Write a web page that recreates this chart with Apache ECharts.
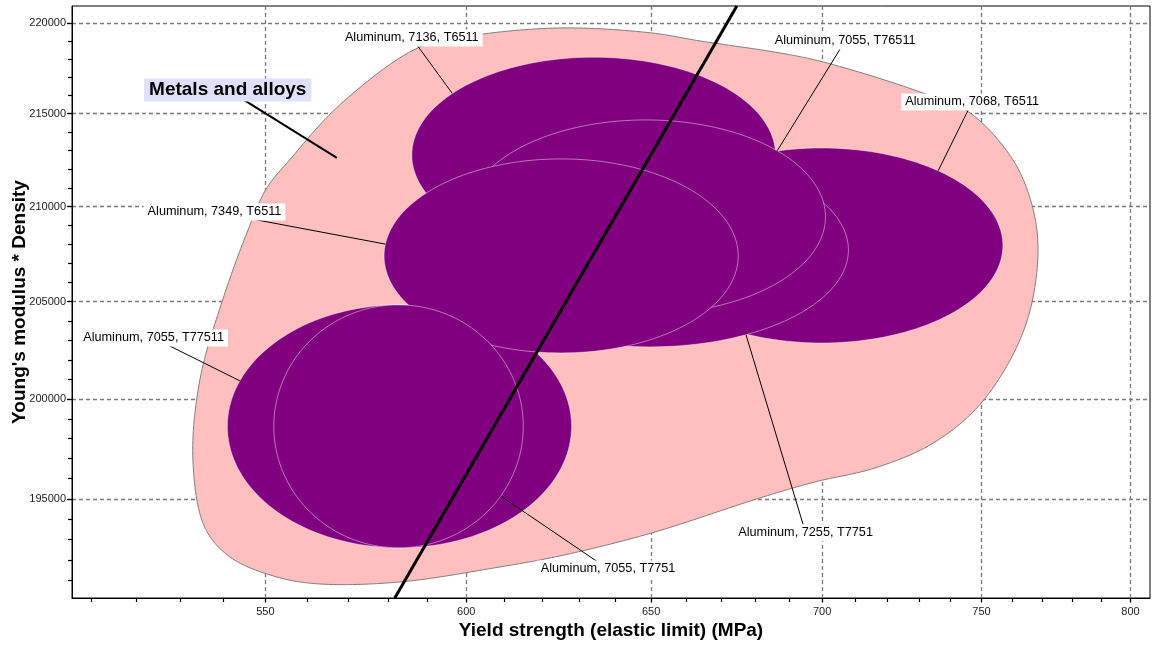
<!DOCTYPE html>
<html>
<head>
<meta charset="utf-8">
<script src="https://cdn.jsdelivr.net/npm/echarts@6/dist/echarts.min.js"></script>
<style>
  html, body { margin: 0; padding: 0; background: #fff; }
  #chart { width: 1152px; height: 646px; }
</style>
</head>
<body>
<div id="chart"></div>
<script>
// material bubbles: yield strength range (MPa) and E*density range
const materials = [
  "Aluminum, 7136, T6511",
  "Aluminum, 7068, T6511",
  "Aluminum, 7255, T7751",
  "Aluminum, 7055, T76511",
  "Aluminum, 7055, T77511",
  "Aluminum, 7349, T6511",
  "Aluminum, 7055, T7751",
];
const yieldLow = [586, 647, 596, 600, 541, 579, 552];
const yieldHigh = [686, 757, 708, 701, 628, 675, 615];
const modDensLow = [207550, 202860, 202660, 204360, 192600, 202350, 192600];
const modDensHigh = [218100, 213140, 212870, 214660, 204830, 212550, 204830];

// where each label sits, and where its leader meets the bubble (degrees)
const labelYield = [586, 747, 695, 707, 524, 538, 638];
const labelModDens = [219170, 215640, 193330, 219000, 203120, 209710, 191570];
const leaderAngle = [141, 50, -61, 43, 158, 173, -35];

// "Metals and alloys" envelope outline
const envYield = [587.5, 600.9, 624.8, 650.2, 663.9, 687.3, 700.3, 730.3, 746.3, 760.3, 766.6, 768.6,
  766.0, 759.4, 747.9, 733.5, 716.2, 697.8, 681.4, 650.2, 624.8, 608.8, 583.0, 563.1, 552.7, 541.6,
  535.7, 533.0, 534.6, 539.9, 545.6, 550.3, 555.8, 568.0];
const envModDens = [218610, 219276, 219722, 219443, 218999, 218334, 217837, 216187, 215039, 212494,
  210085, 207702, 204567, 201991, 199448, 197688, 196537, 195840, 195050, 193327, 192203, 191668,
  190940, 190843, 191182, 192154, 193622, 196937, 200970, 205086, 208600, 210980, 212494, 215477];
const envLabel = "Metals and alloys";
const envLabelAt = [541.1, 216297];
const envLeaderTo = [567.3, 212600];

// selection line
const selYield = [581.7, 674.6];
const selModDens = [190165, 220948];

// axes
const xTicks = [550, 600, 650, 700, 750, 800];
const yTicks = [195000, 200000, 205000, 210000, 215000, 220000];
const xRange = [505.8, 806.8];
const yRange = [190165, 220948];
const xMinorStep = 10;
const yMinorStep = 1000;

const lg = Math.log10;
const FONT = '"Liberation Sans", Arial, sans-serif';

const xMinor = [];
for (let v = 510; v <= 800; v += xMinorStep) xMinor.push(lg(v));
const yMinor = [];
for (let v = 191000; v <= 220000; v += yMinorStep) yMinor.push(lg(v));

const fmt = (v) => String(Math.round(Math.pow(10, v)));

const ellipseRows = materials.map((m, i) => [lg(yieldLow[i]), lg(yieldHigh[i]), lg(modDensLow[i]), lg(modDensHigh[i])]);

function ellipseGeom(api, i) {
  const a = api.coord([lg(yieldLow[i]), lg(modDensLow[i])]);
  const b = api.coord([lg(yieldHigh[i]), lg(modDensHigh[i])]);
  return {
    cx: (a[0] + b[0]) / 2, cy: (a[1] + b[1]) / 2,
    rx: Math.abs(b[0] - a[0]) / 2, ry: Math.abs(b[1] - a[1]) / 2,
  };
}

// closed centripetal catmull-rom through the envelope points (pixel space)
function closedSpline(pts, steps) {
  const n = pts.length;
  const out = [];
  const d = (p, q) => Math.pow(Math.hypot(q[0] - p[0], q[1] - p[1]), 0.5) || 1e-6;
  const mix = (p, q, a, b, t) => [
    ((b - t) / (b - a)) * p[0] + ((t - a) / (b - a)) * q[0],
    ((b - t) / (b - a)) * p[1] + ((t - a) / (b - a)) * q[1],
  ];
  for (let i = 0; i < n; i++) {
    const p0 = pts[(i - 1 + n) % n], p1 = pts[i], p2 = pts[(i + 1) % n], p3 = pts[(i + 2) % n];
    const t0 = 0, t1 = t0 + d(p0, p1), t2 = t1 + d(p1, p2), t3 = t2 + d(p2, p3);
    for (let s = 0; s < steps; s++) {
      const t = t1 + ((t2 - t1) * s) / steps;
      const A1 = mix(p0, p1, t0, t1, t), A2 = mix(p1, p2, t1, t2, t), A3 = mix(p2, p3, t2, t3, t);
      const B1 = mix(A1, A2, t0, t2, t), B2 = mix(A2, A3, t1, t3, t);
      out.push(mix(B1, B2, t1, t2, t));
    }
  }
  return out;
}

const chart = echarts.init(document.getElementById("chart"));

const option = {
  animation: false,
  grid: {
    left: 72, right: 2, top: 6, bottom: 48,
    show: true, borderColor: "#000", borderWidth: 1,
    outerBoundsMode: "none",
  },
  xAxis: [
    {
      type: "value", position: "bottom",
      min: lg(xRange[0]), max: lg(xRange[1]),
      name: "Yield strength (elastic limit) (MPa)",
      nameLocation: "middle", nameGap: 23, nameMoveOverlap: false,
      nameTextStyle: { fontFamily: FONT, fontSize: 19, fontWeight: "bold", color: "#000" },
      axisLine: { lineStyle: { color: "#000", width: 1 } },
      axisTick: { customValues: xTicks.map(lg), length: 5, lineStyle: { color: "#777", width: 1.2 } },
      axisLabel: { customValues: xTicks.map(lg), formatter: fmt, margin: 8, fontFamily: FONT, fontSize: 11, color: "#222" },
      splitLine: { show: true, lineStyle: { color: "#7a7a7a", width: 1.3, type: [4, 3] } },
    },
    {
      type: "value", position: "bottom",
      min: lg(xRange[0]), max: lg(xRange[1]),
      axisLine: { show: false },
      axisTick: { customValues: xMinor, length: 4, lineStyle: { color: "#000", width: 1.2 } },
      axisLabel: { show: false },
      splitLine: { show: false },
    },
  ],
  yAxis: [
    {
      type: "value", position: "left",
      min: lg(yRange[0]), max: lg(yRange[1]),
      name: "Young's modulus * Density",
      nameLocation: "middle", nameGap: 43, nameRotate: 90, nameMoveOverlap: false,
      nameTextStyle: { fontFamily: FONT, fontSize: 19, fontWeight: "bold", color: "#000" },
      axisLine: { show: true, lineStyle: { color: "#000", width: 1 } },
      axisTick: { show: true, customValues: yTicks.map(lg), length: 5, lineStyle: { color: "#000", width: 1.2 } },
      axisLabel: { customValues: yTicks.map(lg), formatter: fmt, margin: 6, fontFamily: FONT, fontSize: 11, color: "#222" },
      splitLine: { show: true, lineStyle: { color: "#7a7a7a", width: 1.3, type: [4, 3] } },
    },
    {
      type: "value", position: "left",
      min: lg(yRange[0]), max: lg(yRange[1]),
      axisLine: { show: false },
      axisTick: { show: true, customValues: yMinor, length: 4, lineStyle: { color: "#000", width: 1.2 } },
      axisLabel: { show: false },
      splitLine: { show: false },
    },
  ],
  series: [
    {
      // envelope
      type: "custom", z: 1, silent: true,
      data: envYield.map((x, i) => [lg(x), lg(envModDens[i])]),
      encode: { x: 0, y: 1 },
      renderItem: (params, api) => {
        if (params.dataIndex !== 0) return null;
        const pts = envYield.map((x, i) => api.coord([lg(x), lg(envModDens[i])]));
        return {
          type: "polygon",
          shape: { points: closedSpline(pts, 16) },
          style: { fill: "#ffbfbf", stroke: "#7f7f7f", lineWidth: 1, blend: "multiply" },
        };
      },
    },
    {
      // bubbles
      type: "custom", z: 2, silent: true,
      data: ellipseRows,
      encode: { x: [0, 1], y: [2, 3] },
      renderItem: (params, api) => {
        const g = ellipseGeom(api, params.dataIndex);
        const pts = [];
        for (let k = 0; k < 160; k++) {
          const t = (k / 160) * Math.PI * 2;
          pts.push([g.cx + g.rx * Math.cos(t), g.cy + g.ry * Math.sin(t)]);
        }
        return {
          type: "polygon",
          shape: { points: pts },
          style: { fill: "#800080", stroke: "rgba(255,255,255,0.45)", lineWidth: 1 },
        };
      },
    },
    {
      type: "line", z: 3, silent: true,
      data: selYield.map((x, i) => [lg(x), lg(selModDens[i])]),
      symbol: "none",
      lineStyle: { color: "#000", width: 3 },
    },
    {
      // labels with leaders
      type: "custom", z: 4, silent: true,
      data: materials.map((m, i) => [lg(labelYield[i]), lg(labelModDens[i])]),
      encode: { x: 0, y: 1 },
      renderItem: (params, api) => {
        const i = params.dataIndex;
        const g = ellipseGeom(api, i);
        const t = (leaderAngle[i] * Math.PI) / 180;
        const ex = g.cx + g.rx * Math.cos(t);
        const ey = g.cy - g.ry * Math.sin(t);
        const p = api.coord([api.value(0), api.value(1)]);
        const children = [
          {
            type: "line",
            shape: { x1: ex, y1: ey, x2: p[0], y2: p[1] },
            style: { stroke: "#000", lineWidth: 1 },
          },
          {
            type: "text", x: p[0], y: p[1],
            style: {
              text: materials[i], fontFamily: FONT, fontSize: 12.7, fill: "#000",
              align: "center", verticalAlign: "middle",
              backgroundColor: "#fff", padding: [2, 4],
            },
          },
        ];
        if (i === 0) {
          const a = api.coord([lg(envLabelAt[0]), lg(envLabelAt[1])]);
          const b = api.coord([lg(envLeaderTo[0]), lg(envLeaderTo[1])]);
          children.push({
            type: "line",
            shape: { x1: b[0], y1: b[1], x2: a[0], y2: a[1] },
            style: { stroke: "#000", lineWidth: 2 },
          });
          children.push({
            type: "text", x: a[0], y: a[1],
            style: {
              text: envLabel, fontFamily: FONT, fontSize: 19, fontWeight: "bold", fill: "#000",
              align: "center", verticalAlign: "middle",
              backgroundColor: "#e0e0fa", padding: [2, 5],
            },
          });
        }
        return { type: "group", children };
      },
    },
  ],
};

chart.setOption(option);
</script>
</body>
</html>
